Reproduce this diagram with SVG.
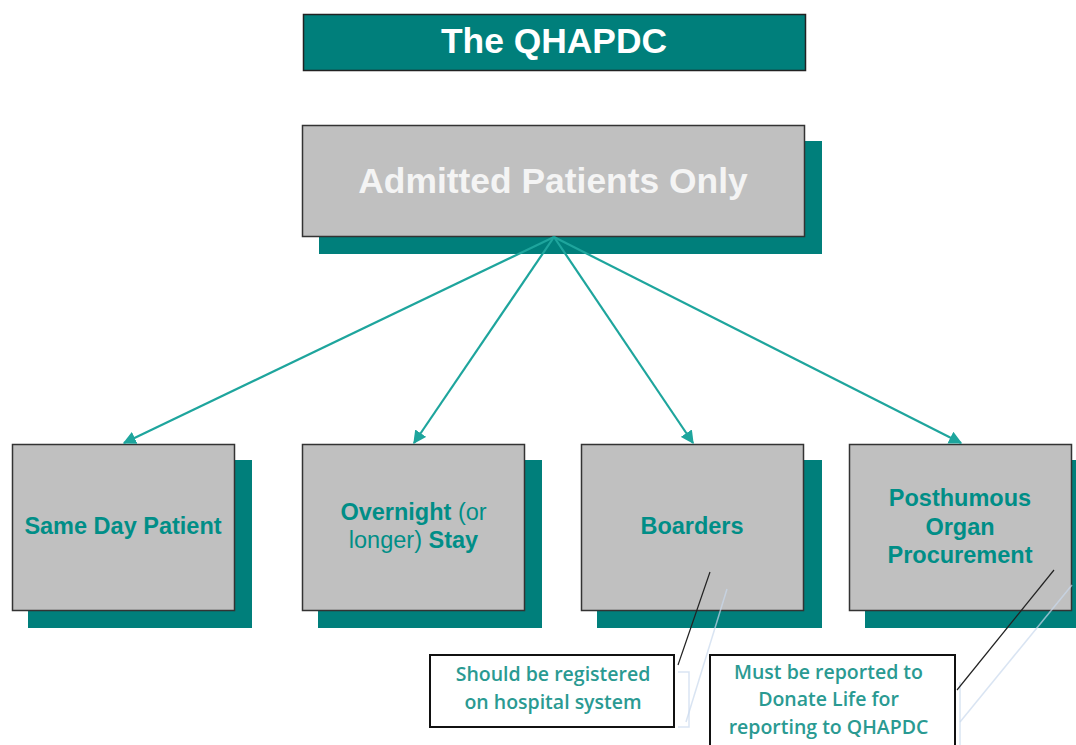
<svg xmlns="http://www.w3.org/2000/svg" width="1076" height="745" viewBox="0 0 1076 745">
<defs>
<style>
.shadow{fill:#007f7b}
.box{fill:#c0c0c0;stroke:#333;stroke-width:1.5}
.lbl{font-family:"Liberation Sans",Arial,sans-serif;font-weight:bold;font-size:23.5px;fill:#008e87;text-anchor:middle}
.thin{font-weight:normal}
.note{fill:#fff;stroke:#111;stroke-width:2}
.ntxt{font-family:"Open Sans","Liberation Sans",sans-serif;font-weight:600;font-size:19.5px;fill:#2a9a92;text-anchor:middle}
.conn{stroke:#1ea59d;stroke-width:2.2;fill:none}
.lead{stroke:#222;stroke-width:1.2;fill:none}
.ghost{stroke:#c9d8ec;stroke-width:1.5;fill:none;opacity:0.7}
</style>
<marker id="ah" viewBox="0 0 10 10" refX="9" refY="5" markerWidth="6" markerHeight="6" markerUnits="strokeWidth" orient="auto">
<path d="M0,0 L10,5 L0,10 z" fill="#1ea59d"/>
</marker>
</defs>
<rect width="1076" height="745" fill="#fff"/>
<g id="title">
<rect x="303.5" y="14.5" width="502" height="56" fill="#007f7b" stroke="#222" stroke-width="1.5"/>
<text x="554" y="53" font-family="'Liberation Sans',Arial,sans-serif" font-weight="bold" font-size="35.4" fill="#fff" text-anchor="middle">The QHAPDC</text>
</g>
<g id="admitted">
<rect class="shadow" x="319" y="141" width="503" height="113"/>
<rect class="box" x="302.5" y="125.5" width="502" height="111"/>
<text x="553" y="193" font-family="'Liberation Sans',Arial,sans-serif" font-weight="bold" font-size="35.4" fill="#f4f4f4" text-anchor="middle">Admitted Patients Only</text>
</g>
<g id="sameday">
<rect class="shadow" x="28" y="460" width="224" height="168"/>
<rect class="box" x="12.5" y="444.5" width="222" height="166"/>
<text class="lbl" x="123" y="534">Same Day Patient</text>
</g>
<g id="overnight">
<rect class="shadow" x="318" y="460" width="224" height="168"/>
<rect class="box" x="302.5" y="444.5" width="222" height="166"/>
<text class="lbl" x="413.5" y="520">Overnight <tspan class="thin">(or</tspan></text>
<text class="lbl" x="413.5" y="548"><tspan class="thin">longer)</tspan> Stay</text>
</g>
<g id="boarders">
<rect class="shadow" x="597" y="460" width="225" height="168"/>
<rect class="box" x="581.5" y="444.5" width="222" height="166"/>
<text class="lbl" x="692" y="534">Boarders</text>
</g>
<g id="posthumous">
<rect class="shadow" x="865" y="460" width="211" height="168"/>
<rect class="box" x="849.5" y="444.5" width="222" height="166"/>
<text class="lbl" x="960" y="506">Posthumous</text>
<text class="lbl" x="960" y="535">Organ</text>
<text class="lbl" x="960" y="563">Procurement</text>
</g>
<g id="ghosts">
<path class="ghost" d="M727,589 L686,722"/>
<path class="ghost" d="M678,672 L689,672 L689,727 L678,727"/>
<path class="ghost" d="M1072,585 L960,722"/>
<path class="ghost" d="M960,682 L960,745"/>
</g>
<g id="connectors">
<path class="conn" d="M554,237 L124,443" marker-end="url(#ah)"/>
<path class="conn" d="M554,237 L414,443" marker-end="url(#ah)"/>
<path class="conn" d="M554,237 L693,443" marker-end="url(#ah)"/>
<path class="conn" d="M554,237 L961,443" marker-end="url(#ah)"/>
<path class="lead" d="M710,572 L678,665"/>
<path class="lead" d="M1054,570 L957,690"/>
</g>
<g id="note1">
<rect class="note" x="430" y="655" width="244" height="72"/>
<text class="ntxt" x="553" y="681">Should be registered</text>
<text class="ntxt" x="553" y="709">on hospital system</text>
</g>
<g id="note2">
<rect class="note" x="710" y="655" width="245" height="95"/>
<text class="ntxt" x="828.5" y="679">Must be reported to</text>
<text class="ntxt" x="828.5" y="706">Donate Life for</text>
<text class="ntxt" x="828.5" y="734">reporting to QHAPDC</text>
</g>
</svg>
